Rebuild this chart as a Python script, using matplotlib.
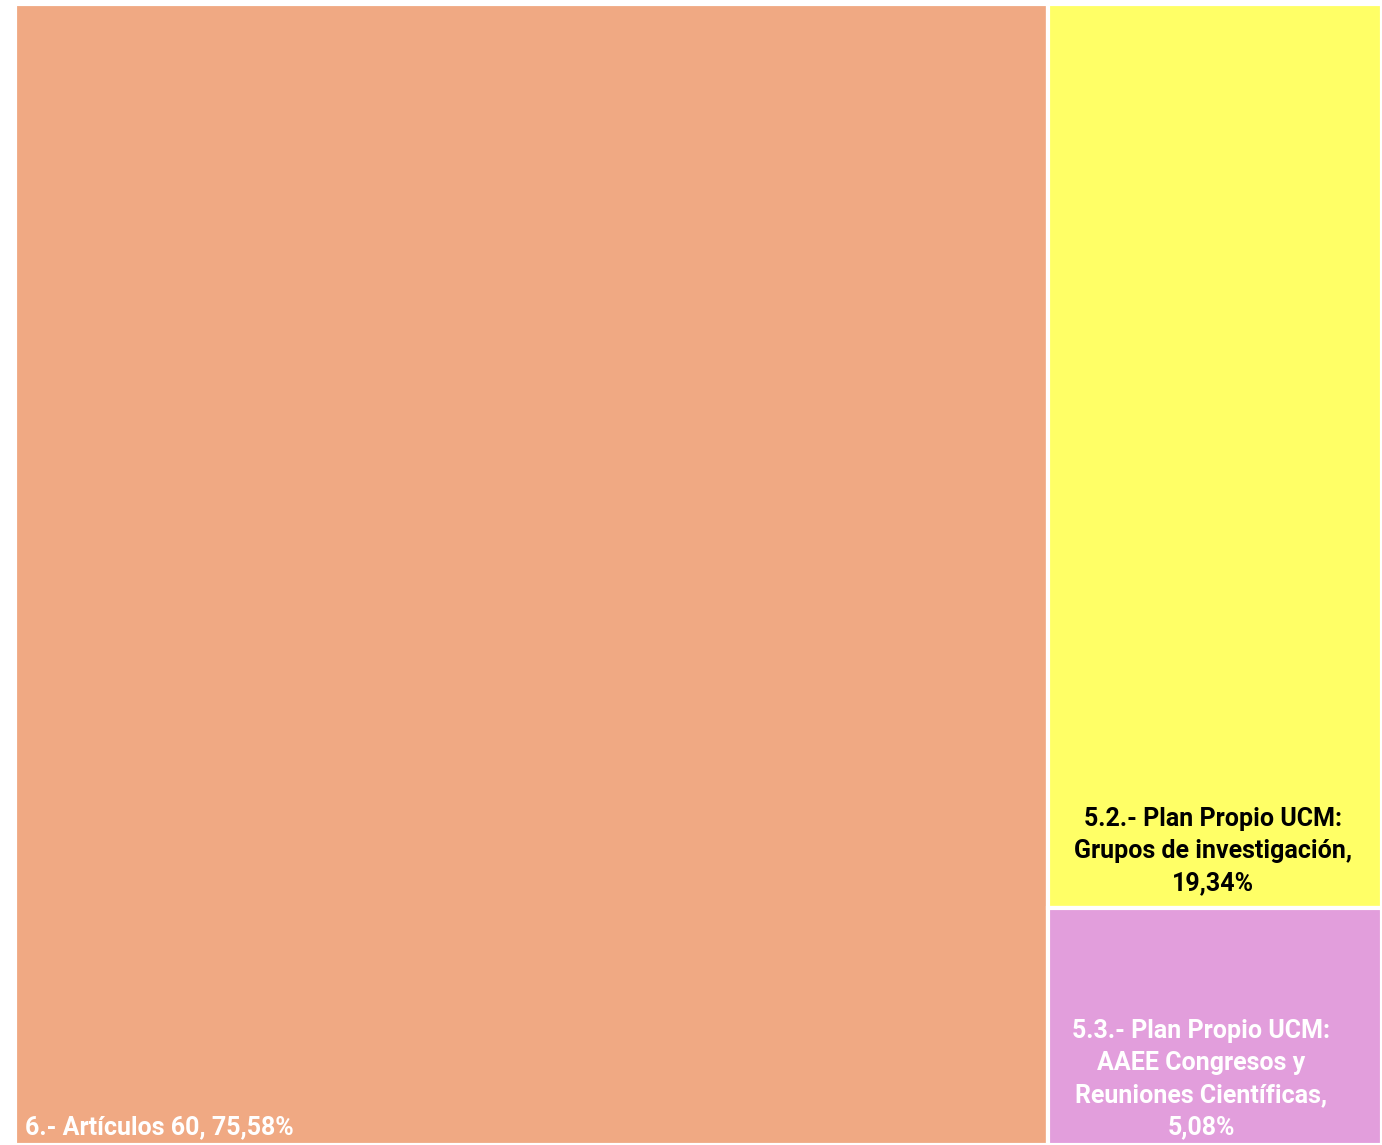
import matplotlib
matplotlib.use('Agg')
from matplotlib import pyplot as plt
from matplotlib.patches import Rectangle

labels = ['6.- Artículos 60, 75,58%',
          '5.2.- Plan Propio UCM:\nGrupos de investigación,\n19,34%',
          '5.3.- Plan Propio UCM:\nAAEE Congresos y\nReuniones Científicas,\n5,08%']
values = [75.58, 19.34, 5.08]
colors = ['#F0A983', '#FFFF66', '#E29EDC']
text_colors = ['white', 'black', 'white']

plt.rcParams['font.family'] = ['Roboto', 'DejaVu Sans']

fig = plt.figure(figsize=(13.82, 11.45), dpi=100)
ax = fig.add_axes([15 / 1382, 0, 1 - 15 / 1382, 1 - 4 / 1145])
ax.set_xlim(0, 1)
ax.set_ylim(0, 1)
ax.axis('off')

total = sum(values)
w0 = values[0] / total
rest = values[1] + values[2]
h2 = values[2] / rest

rects = [
    (0, 0, w0, 1),
    (w0, h2, 1 - w0, 1 - h2),
    (w0, 0, 1 - w0, h2),
]
for (x, y, w, h), c in zip(rects, colors):
    ax.add_patch(Rectangle((x, y), w, h, facecolor=c, edgecolor='white', linewidth=3))

fs = 18
x, y, w, h = rects[0]
ax.text(x + 0.007, y + 0.005, labels[0], ha='left', va='bottom', fontsize=fs,
        fontweight='bold', color=text_colors[0])
x, y, w, h = rects[1]
ax.text(x + w * 0.495, y + 0.011, labels[1], ha='center', va='bottom', fontsize=fs,
        fontweight='bold', color=text_colors[1], linespacing=1.42)
x, y, w, h = rects[2]
ax.text(x + w * 0.458, y + 0.005, labels[2], ha='center', va='bottom', fontsize=fs,
        fontweight='bold', color=text_colors[2], linespacing=1.42)

fig.savefig('out.png', dpi=100, facecolor='white')
